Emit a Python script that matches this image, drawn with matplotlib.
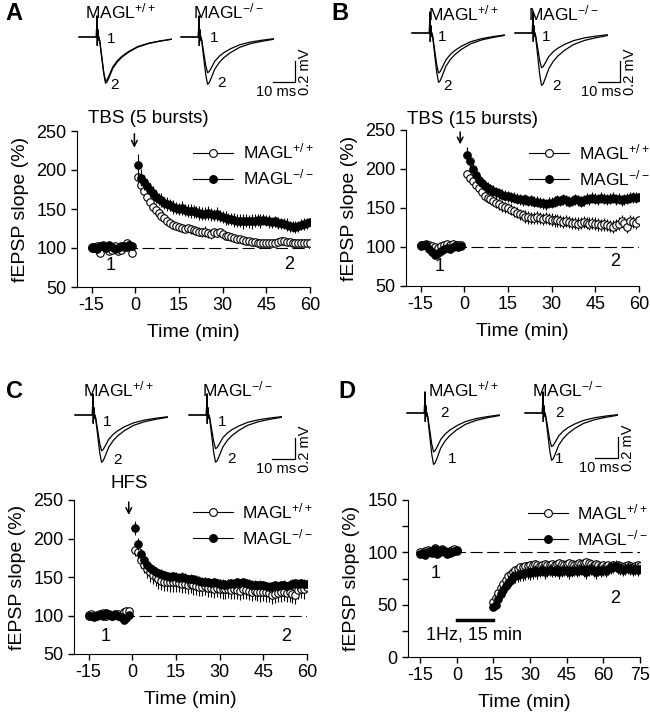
import matplotlib
matplotlib.use('Agg')
import matplotlib.pyplot as plt
from matplotlib.lines import Line2D
from matplotlib.ticker import MultipleLocator

plt.rcParams['font.family'] = ['Liberation Sans', 'DejaVu Sans']
plt.rcParams['mathtext.default'] = 'regular'
plt.rcParams['axes.unicode_minus'] = False

# time axes (min): 15 min baseline, then post-induction
TIME_LTP = list(range(-15, 0)) + list(range(1, 61))
TIME_LTD = list(range(-15, 1)) + list(range(15, 76))

# ---- panel A: TBS (5 bursts) ----
A_WT = [101, 100, 103, 94, 104, 100, 96, 97, 102, 96, 98, 101, 107, 104, 94,
        191, 181, 173, 166, 159, 153, 149, 145, 141, 138,
        135, 132, 130, 128, 127, 126, 125, 126, 124, 123,
        122, 121, 120, 121, 119, 118, 120, 119, 120, 118,
        116, 115, 114, 113, 112, 111, 110, 109, 109, 108,
        108, 107, 107, 106, 106, 107, 106, 107, 108, 109,
        109, 108, 108, 107, 107, 106, 107, 107, 106, 107]
A_WT_ERR = [3, 3, 3, 3, 3, 3, 3, 3, 3, 3, 3, 3, 3, 3, 3,
            6, 6, 5, 5, 5, 5, 5, 5, 4, 4,
            4, 4, 5, 4, 4, 5, 4, 4, 6, 5,
            5, 6, 6, 7, 6, 6, 6, 5, 5, 5,
            4, 4, 4, 4, 4, 4, 3, 3, 3, 3,
            3, 3, 3, 3, 3, 3, 3, 3, 3, 3,
            4, 4, 4, 4, 4, 4, 4, 4, 4, 4]
A_KO = [100, 101, 99, 103, 102, 100, 104, 101, 99, 100, 102, 103, 101, 104, 103,
        206, 190, 184, 179, 174, 170, 166, 163, 161, 158,
        156, 155, 153, 151, 150, 151, 149, 148, 147, 147,
        146, 145, 144, 144, 145, 143, 142, 143, 141, 140,
        139, 137, 137, 136, 135, 135, 134, 135, 134, 134,
        135, 136, 135, 136, 135, 134, 133, 134, 132, 132,
        131, 130, 128, 127, 127, 128, 130, 131, 132, 133]
A_KO_ERR = [2, 2, 2, 2, 2, 2, 2, 2, 2, 2, 2, 2, 2, 2, 2,
            14, 11, 10, 9, 9, 9, 8, 8, 9, 8,
            9, 8, 9, 8, 8, 9, 8, 8, 9, 8,
            8, 9, 8, 8, 9, 8, 8, 9, 8, 8,
            9, 8, 8, 9, 8, 8, 9, 8, 8, 9,
            8, 8, 9, 7, 7, 8, 7, 7, 8, 7,
            7, 8, 7, 7, 8, 7, 7, 8, 7, 7]

# ---- panel B: TBS (15 bursts) ----
B_WT = [103, 102, 104, 102, 101, 100, 99, 101, 103, 104, 102, 104, 103, 102, 102,
        193, 189, 185, 180, 175, 170, 166, 163, 161, 159,
        157, 155, 152, 151, 150, 148, 146, 144, 142, 141,
        139, 138, 137, 137, 138, 137, 136, 137, 136, 135,
        134, 134, 133, 132, 133, 132, 131, 131, 130, 131,
        132, 131, 130, 131, 130, 129, 128, 129, 128, 127,
        126, 128, 130, 133, 131, 126, 133, 132, 131, 135]
B_WT_ERR = [3, 3, 3, 3, 3, 3, 3, 3, 3, 3, 3, 3, 3, 3, 3,
            6, 6, 6, 6, 6, 6, 6, 6, 6, 6,
            7, 7, 7, 7, 7, 7, 7, 7, 7, 7,
            8, 8, 8, 8, 8, 8, 8, 8, 8, 8,
            8, 8, 8, 8, 8, 8, 8, 8, 8, 8,
            8, 8, 8, 8, 8, 8, 8, 8, 8, 8,
            8, 8, 8, 8, 8, 8, 8, 8, 8, 8]
B_KO = [101, 103, 102, 97, 94, 90, 92, 95, 98, 99, 98, 100, 101, 100, 101,
        218, 210, 200, 192, 186, 182, 178, 176, 174, 172,
        170, 169, 167, 166, 165, 164, 163, 162, 161, 160,
        161, 159, 160, 158, 158, 157, 156, 155, 157, 157,
        158, 160, 159, 161, 160, 158, 159, 161, 160, 158,
        160, 162, 161, 163, 162, 161, 163, 162, 161, 162,
        163, 161, 162, 160, 161, 162, 163, 164, 163, 164]
B_KO_ERR = [3, 3, 3, 3, 3, 4, 4, 3, 3, 3, 3, 3, 3, 3, 3,
            10, 9, 8, 8, 8, 7, 7, 7, 7, 7,
            7, 7, 7, 7, 7, 7, 7, 7, 7, 7,
            7, 7, 7, 7, 7, 7, 7, 7, 7, 7,
            7, 7, 7, 7, 7, 7, 7, 7, 7, 7,
            7, 7, 7, 7, 7, 7, 7, 7, 7, 7,
            7, 7, 7, 7, 7, 7, 7, 7, 7, 7]

# ---- panel C: HFS ----
C_WT = [101, 102, 100, 99, 101, 103, 100, 102, 99, 101, 102, 100, 104, 106, 106,
        185, 182, 172, 165, 160, 156, 153, 150, 147, 145,
        144, 144, 143, 143, 143, 142, 141, 141, 140, 141,
        139, 138, 137, 137, 138, 136, 136, 135, 136, 135,
        134, 134, 135, 133, 134, 133, 132, 134, 133, 132,
        131, 132, 131, 130, 131, 130, 129, 127, 128, 129,
        130, 131, 129, 130, 128, 127, 133, 135, 134, 137]
C_WT_ERR = [3, 3, 3, 3, 3, 3, 3, 3, 3, 3, 3, 3, 3, 3, 3,
            8, 9, 10, 10, 11, 12, 12, 12, 12, 12,
            12, 12, 12, 12, 12, 12, 12, 12, 12, 12,
            12, 12, 12, 12, 12, 12, 12, 12, 12, 12,
            12, 12, 12, 12, 12, 12, 12, 12, 12, 12,
            12, 12, 12, 12, 12, 12, 12, 12, 12, 12,
            12, 12, 12, 12, 12, 12, 12, 12, 12, 12]
C_KO = [99, 100, 98, 101, 102, 100, 103, 101, 100, 102, 99, 98, 94, 97, 101,
        214, 193, 180, 172, 166, 162, 159, 157, 155, 154,
        152, 151, 150, 151, 150, 149, 150, 149, 147, 148,
        147, 146, 145, 144, 144, 143, 142, 143, 142, 141,
        141, 140, 141, 142, 141, 143, 142, 143, 142, 141,
        140, 140, 139, 140, 139, 138, 137, 138, 139, 138,
        139, 140, 138, 140, 141, 142, 141, 142, 141, 141]
C_KO_ERR = [2, 2, 2, 2, 2, 2, 2, 2, 2, 2, 2, 2, 2, 2, 2,
            9, 8, 7, 6, 6, 6, 6, 6, 6, 6,
            6, 6, 6, 6, 6, 6, 6, 6, 6, 6,
            6, 6, 6, 6, 6, 6, 6, 6, 6, 6,
            6, 6, 6, 6, 6, 6, 6, 6, 6, 6,
            6, 6, 6, 6, 6, 6, 6, 6, 6, 6,
            6, 6, 6, 6, 6, 6, 6, 6, 6, 6]

# ---- panel D: 1 Hz, 15 min (LTD) ----
D_WT = [100, 99, 101, 102, 100, 101, 104, 100, 102, 103, 100, 99, 101, 102, 103, 101,
        53, 56, 61, 66, 70, 74, 77, 79, 81, 83,
        84, 86, 86, 87, 87, 88, 88, 89, 88, 87,
        88, 89, 88, 88, 89, 88, 89, 90, 89, 88,
        89, 90, 89, 88, 89, 90, 89, 90, 91, 90,
        89, 88, 89, 88, 87, 88, 87, 88, 87, 88,
        87, 88, 87, 86, 87, 88, 87, 86, 87, 88, 87]
D_WT_ERR = [2, 2, 2, 2, 2, 2, 2, 2, 2, 2, 2, 2, 2, 2, 2, 2,
            3, 3, 4, 4, 4, 4, 4, 4, 4, 4,
            4, 4, 4, 4, 4, 4, 4, 4, 4, 4,
            4, 4, 4, 4, 4, 4, 4, 4, 4, 4,
            4, 4, 4, 4, 4, 4, 4, 4, 4, 4,
            4, 4, 4, 4, 4, 4, 4, 4, 4, 4,
            4, 4, 4, 4, 4, 4, 4, 4, 4, 4, 4]
D_KO = [98, 99, 97, 100, 101, 99, 103, 98, 100, 102, 101, 98, 99, 100, 101, 102,
        48, 50, 55, 60, 64, 68, 71, 74, 76, 77,
        78, 79, 79, 80, 81, 80, 81, 82, 81, 82,
        83, 81, 82, 83, 82, 82, 83, 81, 82, 83,
        82, 81, 82, 83, 82, 83, 84, 82, 81, 83,
        84, 82, 81, 83, 82, 83, 82, 84, 85, 86,
        87, 85, 84, 83, 84, 85, 84, 83, 84, 83, 84]
D_KO_ERR = [2, 2, 2, 2, 2, 2, 2, 2, 2, 2, 2, 2, 2, 2, 2, 2,
            3, 3, 4, 5, 6, 6, 6, 6, 6, 6,
            6, 6, 6, 6, 6, 6, 6, 6, 6, 6,
            6, 6, 6, 6, 6, 6, 6, 6, 6, 6,
            6, 6, 6, 6, 6, 6, 6, 6, 6, 6,
            6, 6, 6, 6, 6, 6, 6, 6, 6, 6,
            6, 6, 6, 6, 6, 6, 6, 6, 6, 6, 6]
D_STIM_MIN = [0, 15]
D_STIM_LEVEL = 35

# ---- example fEPSP traces (ms / mV) ----
TRACE_MS = [-8, -0.3, 0.0, 0.15, 0.35, 0.55, 0.8, 1.2, 2.0, 3.0, 3.8,
            4.5, 5.5, 7, 9, 11, 14, 18, 23, 28, 33]
ARTIFACT_MV = [0, 0, 0.2, -0.08, 0.07, -0.03, 0.01, 0, 0, 0, 0,
               0, 0, 0, 0, 0, 0, 0, 0, 0, 0]
FEPSP_SHAPE = [0, 0, 0, 0, 0, 0, -0.02, -0.08, -0.4, -0.8, -1.0,
               -0.97, -0.86, -0.68, -0.54, -0.44, -0.33, -0.22, -0.14, -0.09, -0.05]
# peak amplitudes (mV) of traces "1" and "2"
A_TRACE_WT = [0.42, 0.44]
A_TRACE_KO = [0.34, 0.45]
B_TRACE_WT = [0.38, 0.47]
B_TRACE_KO = [0.33, 0.50]
C_TRACE_WT = [0.34, 0.45]
C_TRACE_KO = [0.32, 0.45]
D_TRACE_WT = [0.49, 0.37]
D_TRACE_KO = [0.45, 0.32]

WT_LABEL = 'MAGL$^{+/+}$'
KO_LABEL = 'MAGL$^{-/-}$'

FIG_W, FIG_H = 650, 720
PX_PER_MS = 2.25
PX_PER_MV = 105
T_LIM = (-8, 48)
V_LIM = (-0.6, 0.3)


def px_axes(fig, left, top, right, bottom):
    return fig.add_axes([left / FIG_W, 1 - bottom / FIG_H,
                         (right - left) / FIG_W, (bottom - top) / FIG_H])


def trace_axes(fig, x0, y0):
    # x0, y0: pixel position of stimulus onset / baseline
    ax = px_axes(fig, x0 + T_LIM[0] * PX_PER_MS, y0 - V_LIM[1] * PX_PER_MV,
                 x0 + T_LIM[1] * PX_PER_MS, y0 - V_LIM[0] * PX_PER_MV)
    ax.set_xlim(*T_LIM)
    ax.set_ylim(*V_LIM)
    ax.axis('off')
    return ax


def draw_traces(ax, amps, label, label_pos, num_pos):
    for amp in amps:
        v = [a + amp * s for a, s in zip(ARTIFACT_MV, FEPSP_SHAPE)]
        ax.plot(TRACE_MS, v, color='black', lw=0.9, clip_on=False)
    ax.text(label_pos[0], label_pos[1], label, fontsize=12.5, ha='left', va='center')
    for num, (tx, ty) in zip(['1', '2'], num_pos):
        ax.text(tx, ty, num, fontsize=11, ha='left', va='center')


def draw_scalebar(ax, corner):
    cx, cy = corner
    ax.plot([cx - 10, cx, cx], [cy, cy, cy + 0.2], color='black', lw=0.9, clip_on=False)
    ax.text(cx + 0.5, cy - 0.03, '10 ms', fontsize=10.5, ha='right', va='top')
    ax.text(cx + 1.5, cy + 0.1, '0.2 mV', fontsize=10.5, rotation=90,
            ha='left', va='center')


def draw_time_course(ax, time, wt, wt_err, ko, ko_err, xmax):
    ax.plot([-15, xmax], [100, 100], color='black', lw=0.8,
            ls=(0, (11, 4)), zorder=1)
    ax.errorbar(time, wt, yerr=wt_err, fmt='o', ms=5.4, mfc='white', mec='black',
                mew=0.8, ecolor='black', elinewidth=0.8, capsize=0, zorder=3)
    ax.errorbar(time, ko, yerr=ko_err, fmt='o', ms=5.4, mfc='black', mec='black',
                mew=0.8, ecolor='black', elinewidth=0.8, capsize=0, zorder=4)
    ax.spines['top'].set_visible(False)
    ax.spines['right'].set_visible(False)
    ax.tick_params(direction='out', length=4, width=1, labelsize=13)
    ax.tick_params(which='minor', direction='out', length=4, width=1)
    ax.set_xlabel('Time (min)', fontsize=14, labelpad=7)
    ax.set_ylabel('fEPSP slope (%)', fontsize=14, labelpad=5)


def add_legend(ax, anchor):
    handles = [Line2D([], [], color='black', lw=0.8, marker='o', ms=5.6,
                      mfc='white', mec='black', mew=0.8),
               Line2D([], [], color='black', lw=0.8, marker='o', ms=5.6,
                      mfc='black', mec='black', mew=0.8)]
    ax.legend(handles, [WT_LABEL, KO_LABEL], loc='upper left', bbox_to_anchor=anchor,
              frameon=False, fontsize=12.5, handlelength=2.3, handletextpad=0.55,
              labelspacing=0.35, borderpad=0, borderaxespad=0)


fig = plt.figure(figsize=(6.5, 7.2), dpi=100)

# ---------- A ----------
ax = px_axes(fig, 77, 131, 310, 287)
draw_time_course(ax, TIME_LTP, A_WT, A_WT_ERR, A_KO, A_KO_ERR, 60)
ax.set_xlim(-20, 60)
ax.set_ylim(50, 250)
ax.set_xticks([-15, 0, 15, 30, 45, 60])
ax.set_yticks([50, 100, 150, 200, 250])
ax.text(4.5, 266, 'TBS (5 bursts)', fontsize=13.5, ha='center', va='center')
ax.annotate('', xy=(-0.3, 225), xytext=(-0.3, 250), annotation_clip=False,
            arrowprops=dict(arrowstyle='->', lw=1.1, color='black'))
ax.text(-8.6, 77, '1', fontsize=13, ha='center', va='center')
ax.text(53, 79, '2', fontsize=13, ha='center', va='center')
add_legend(ax, (0.498, 0.93))

tw = trace_axes(fig, 97, 37)
draw_traces(tw, A_TRACE_WT, WT_LABEL, (-5.3, 0.24), [(4.4, -0.02), (5.8, -0.46)])
tk = trace_axes(fig, 199, 37)
draw_traces(tk, A_TRACE_KO, KO_LABEL, (-2.7, 0.24), [(4.9, -0.01), (8.0, -0.44)])
draw_scalebar(tk, (42.7, -0.43))

# ---------- B ----------
ax = px_axes(fig, 406, 130, 639, 286)
draw_time_course(ax, TIME_LTP, B_WT, B_WT_ERR, B_KO, B_KO_ERR, 60)
ax.set_xlim(-20, 60)
ax.set_ylim(50, 250)
ax.set_xticks([-15, 0, 15, 30, 45, 60])
ax.set_yticks([50, 100, 150, 200, 250])
ax.text(3, 264, 'TBS (15 bursts)', fontsize=13.5, ha='center', va='center')
ax.annotate('', xy=(-1.4, 228), xytext=(-1.4, 251), annotation_clip=False,
            arrowprops=dict(arrowstyle='->', lw=1.1, color='black'))
ax.text(-8.5, 75, '1', fontsize=13, ha='center', va='center')
ax.text(51.7, 81, '2', fontsize=13, ha='center', va='center')
add_legend(ax, (0.528, 0.92))

tw = trace_axes(fig, 430, 33)
draw_traces(tw, B_TRACE_WT, WT_LABEL, (-1.0, 0.19), [(3.6, -0.04), (5.8, -0.5)])
tk = trace_axes(fig, 533, 33)
draw_traces(tk, B_TRACE_KO, KO_LABEL, (-2.2, 0.19), [(4.0, -0.04), (8.4, -0.5)])
draw_scalebar(tk, (38.7, -0.47))

# ---------- C ----------
ax = px_axes(fig, 74, 500, 307, 654)
draw_time_course(ax, TIME_LTP, C_WT, C_WT_ERR, C_KO, C_KO_ERR, 60)
ax.set_xlim(-20, 60)
ax.set_ylim(50, 250)
ax.set_xticks([-15, 0, 15, 30, 45, 60])
ax.set_yticks([50, 100, 150, 200, 250])
ax.text(-1.2, 261, 'HFS', fontsize=13.5, ha='center', va='bottom')
ax.annotate('', xy=(-1.2, 227), xytext=(-1.2, 251), annotation_clip=False,
            arrowprops=dict(arrowstyle='->', lw=1.1, color='black'))
ax.text(-9.2, 73, '1', fontsize=13, ha='center', va='center')
ax.text(53, 73, '2', fontsize=13, ha='center', va='center')
add_legend(ax, (0.51, 0.99))

tw = trace_axes(fig, 93, 415)
draw_traces(tw, C_TRACE_WT, WT_LABEL, (-4.4, 0.24), [(4.4, -0.07), (9.0, -0.43)])
tk = trace_axes(fig, 207, 415)
draw_traces(tk, C_TRACE_KO, KO_LABEL, (-2.3, 0.24), [(5.0, -0.07), (9.2, -0.42)])
draw_scalebar(tk, (39.0, -0.42))

# ---------- D ----------
ax = px_axes(fig, 408, 500, 640, 657)
draw_time_course(ax, TIME_LTD, D_WT, D_WT_ERR, D_KO, D_KO_ERR, 75)
ax.set_xlim(-20, 75)
ax.set_ylim(0, 150)
ax.set_xticks([-15, 0, 15, 30, 45, 60, 75])
ax.set_yticks([0, 50, 100, 150])
ax.yaxis.set_minor_locator(MultipleLocator(25))
ax.plot(D_STIM_MIN, [D_STIM_LEVEL, D_STIM_LEVEL], color='black', lw=2.5)
ax.text(7, 21, '1Hz, 15 min', fontsize=13, ha='center', va='center')
ax.text(-8.7, 80, '1', fontsize=13, ha='center', va='center')
ax.text(64.8, 56, '2', fontsize=13, ha='center', va='center')
add_legend(ax, (0.517, 0.985))

tw = trace_axes(fig, 425, 413)
draw_traces(tw, D_TRACE_WT, WT_LABEL, (1.3, 0.22), [(10.0, -0.44), (6.7, 0.0)])
tk = trace_axes(fig, 543, 413)
draw_traces(tk, D_TRACE_KO, KO_LABEL, (-4.9, 0.22), [(5.5, -0.44), (5.3, 0.0)])
draw_scalebar(tk, (33.3, -0.43))

# panel letters
for letter, x, y in [('A', 5, 13), ('B', 331, 13), ('C', 6, 392), ('D', 338, 392)]:
    fig.text(x / FIG_W, 1 - y / FIG_H, letter, fontsize=17, fontweight='bold',
             ha='left', va='center')

fig.savefig('out.png', dpi=100)
